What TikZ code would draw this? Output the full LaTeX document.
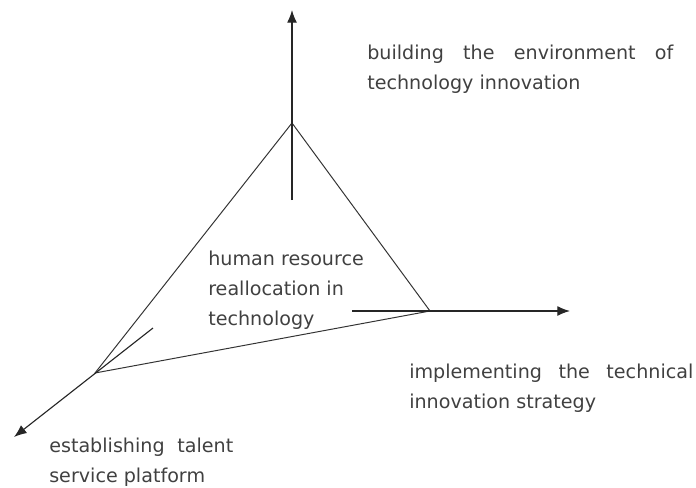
\documentclass[tikz,border=0pt]{standalone}
\usepackage{fontspec}
\setmainfont{DejaVu Sans}
\usetikzlibrary{arrows.meta}

\begin{document}
\begin{tikzpicture}[x=0.025cm,y=-0.025cm,font={\fontsize{13.6}{21}\selectfont},
  axis/.style={line width=0.8pt,black!85,-{Latex[length=9pt,width=7pt]}},
  edge/.style={line width=0.7pt,black!80},
  label/.style={anchor=base west,align=left,inner sep=0pt,text=black!75}]
  \useasboundingbox (0,0) rectangle (696,487);
  \coordinate (top) at (292,123);
  \coordinate (right) at (430,311);
  \coordinate (left) at (95,373);
  \coordinate (topstart) at (292,200);
  \coordinate (topend) at (292,10);
  \coordinate (rightstart) at (352,311);
  \coordinate (rightend) at (570,311);
  \coordinate (leftstart) at (153,328);
  \coordinate (leftend) at (14,437);
  \draw[edge] (top) -- (right) -- (left) -- cycle;
  \draw[axis] (topstart) -- (topend);
  \draw[axis] (rightstart) -- (rightend);
  \draw[axis] (leftstart) -- (leftend);
  \node[label] (environment) at (367,89) {\makebox[7.65cm][s]{building the environment of}\\technology innovation};
  \node[label] (reallocation) at (208,325) {human resource\\reallocation in\\technology};
  \node[label] (strategy) at (409,408) {\makebox[7.1cm][s]{implementing the technical}\\innovation strategy};
  \node[label] (platform) at (49,482) {\makebox[4.6cm][s]{establishing talent}\\service platform};
\end{tikzpicture}
\end{document}
